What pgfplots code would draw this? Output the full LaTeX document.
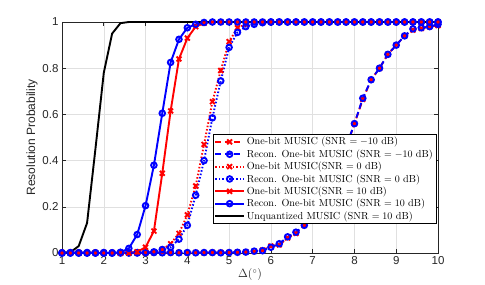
\documentclass[border=0pt]{standalone}
\usepackage{fontspec}
\usepackage{pgfplots}
\usepackage{pgfplotstable}
\pgfplotsset{compat=1.18}
\newfontfamily\arialfont{Liberation Sans}
\definecolor{axgray}{rgb}{0.15,0.15,0.15}
\pgfplotstableread{
x a b c d e f g
1.0  0.002 0.001 0 0 0 0 0
1.2  0.001 0.002 0 0 0 0 0.003
1.4  0.002 0.001 0 0 0 0 0.03
1.6  0.001 0.002 0 0 0 0 0.13
1.8  0.002 0.001 0 0 0 0 0.45
2.0  0.001 0.002 0 0 0 0 0.78
2.2  0.002 0.001 0 0 0 0 0.95
2.4  0.001 0.002 0 0 0 0.003 0.995
2.6  0.002 0.001 0 0 0 0.02 1
2.8  0.001 0.002 0 0 0.005 0.08 1
3.0  0.002 0.001 0 0.002 0.025 0.205 1
3.2  0.001 0.002 0.005 0.005 0.095 0.38 1
3.4  0.002 0.001 0.015 0.015 0.345 0.605 1
3.6  0.001 0.002 0.04 0.025 0.615 0.825 1
3.8  0.002 0.001 0.085 0.06 0.84 0.925 1
4.0  0.001 0.002 0.165 0.12 0.93 0.975 1
4.2  0.002 0.001 0.29 0.25 0.98 0.99 1
4.4  0.001 0.002 0.47 0.40 0.995 0.998 1
4.6  0.002 0.002 0.655 0.585 1 1 1
4.8  0.002 0.001 0.79 0.745 1 1 1
5.0  0.002 0.002 0.915 0.89 1 1 1
5.2  0.004 0.003 0.975 0.955 1 1 1
5.4  0.005 0.004 0.99 0.98 1 1 1
5.6  0.007 0.008 0.997 0.99 1 1 1
5.8  0.012 0.01 1 0.997 1 1 1
6.0  0.03 0.025 1 1 1 1 1
6.2  0.035 0.04 1 1 1 1 1
6.4  0.065 0.07 1 1 1 1 1
6.6  0.085 0.09 1 1 1 1 1
6.8  0.12 0.12 1 1 1 1 1
7.0  0.16 0.165 1 1 1 1 1
7.2  0.21 0.215 1 1 1 1 1
7.4  0.275 0.28 1 1 1 1 1
7.6  0.355 0.36 1 1 1 1 1
7.8  0.455 0.46 1 1 1 1 1
8.0  0.56 0.56 1 1 1 1 1
8.2  0.665 0.67 1 1 1 1 1
8.4  0.75 0.75 1 1 1 1 1
8.6  0.80 0.80 1 1 1 1 1
8.8  0.86 0.86 1 1 1 1 1
9.0  0.90 0.90 1 1 1 1 1
9.2  0.94 0.94 1 1 1 1 1
9.4  0.965 0.97 1 1 1 1 1
9.6  0.972 0.975 1 1 1 1 1
9.8  0.98 0.98 1 1 1 1 1
10.0 0.985 0.99 1 1 1 1 1
}\data
\begin{document}
\begin{tikzpicture}
\begin{axis}[
  scale only axis, width=376pt, height=231pt,
  xmin=1, xmax=10, ymin=0, ymax=1,
  xtick={1,2,...,10}, ytick={0,0.2,0.4,0.6,0.8,1},
  yticklabels={0,0.2,0.4,0.6,0.8,1},
  grid=major, major grid style={black!12, line width=0.5pt},
  axis line style={axgray, line width=0.6pt},
  tick style={axgray, line width=0.6pt}, major tick length=4pt,
  tick align=inside,
  /pgf/number format/assume math mode=true,
  ticklabel style={font=\arialfont\fontsize{11.5}{13}\selectfont, text=axgray},
  xlabel={$\Delta(^\circ)$},
  ylabel={\arialfont Resolution Probability},
  label style={font=\fontsize{12}{14}\selectfont, text=axgray},
  xlabel style={yshift=3pt},
  ylabel style={yshift=-2pt},
  clip=false,
  legend cell align=left,
  legend style={at={(0.995,0.515)}, anchor=north east, draw=black, line width=0.6pt,
    fill=white, font=\fontsize{10.2}{11.5}\selectfont, inner sep=1pt, row sep=-0.8pt},
  legend image code/.code={\draw[mark repeat=2,mark phase=2,#1] plot coordinates {(0cm,0cm) (0.5cm,0cm) (1cm,0cm)};},
]
\addplot[red, line width=1.9pt, dash pattern=on 6pt off 3.5pt, mark=x, mark size=3.4pt, mark options={solid}] table[x=x,y=a] {\data};
\addlegendentry{One-bit MUSIC (SNR $=-10$ dB)}
\addplot[blue, line width=1.9pt, dash pattern=on 6pt off 3.5pt, mark=o, mark size=2.8pt, mark options={solid}] table[x=x,y=b] {\data};
\addlegendentry{Recon. One-bit MUSIC (SNR $=-10$ dB)}
\addplot[red, line width=1.9pt, dash pattern=on 1.5pt off 2pt, mark=x, mark size=3.4pt, mark options={solid}] table[x=x,y=c] {\data};
\addlegendentry{One-bit MUSIC(SNR $=0$ dB)}
\addplot[blue, line width=1.9pt, dash pattern=on 1.5pt off 2pt, mark=o, mark size=2.8pt, mark options={solid}] table[x=x,y=d] {\data};
\addlegendentry{Recon. One-bit MUSIC (SNR $=0$ dB)}
\addplot[red, line width=1.9pt, mark=x, mark size=3.4pt] table[x=x,y=e] {\data};
\addlegendentry{One-bit MUSIC(SNR $=10$ dB)}
\addplot[blue, line width=1.9pt, mark=o, mark size=2.8pt] table[x=x,y=f] {\data};
\addlegendentry{Recon. One-bit MUSIC (SNR $=10$ dB)}
\addplot[black, line width=1.9pt, no marks] table[x=x,y=g] {\data};
\addlegendentry{Unquantized MUSIC (SNR $=10$ dB)}
\end{axis}
\pgfresetboundingbox
\path (current axis.south west) ++(-62pt,-31pt) rectangle ([xshift=47pt,yshift=22pt]current axis.north east);
\end{tikzpicture}
\end{document}
